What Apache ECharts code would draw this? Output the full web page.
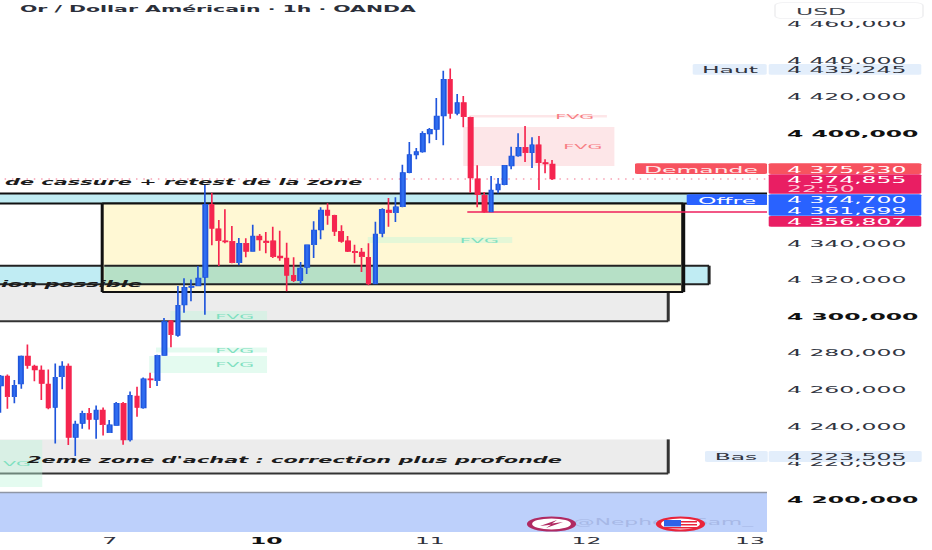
<!DOCTYPE html>
<html><head><meta charset="utf-8">
<style>html,body{margin:0;padding:0;width:932px;height:550px;overflow:hidden;background:#fff}
#c{position:absolute;left:0;top:0;width:1072px;height:1650px;transform-origin:0 0;transform:scale(.87,.33333)}</style>
<script src="https://cdn.jsdelivr.net/npm/echarts@6/dist/echarts.min.js"></script>
</head><body><div id="c"></div>
<script>
// ---- data: [open, close, low, high]
const candles=[
[4261.75,4267.21,4247.18,4267.76],[4267.21,4255.92,4249.36,4268.12],[4255.92,4262.11,4252.28,4265.02],[4262.84,4278.14,4260.29,4278.5],
[4278.14,4273.04,4271.22,4284.5],[4272.68,4270.49,4264.3,4273.4],[4270.49,4263.2,4254.1,4273.04],[4262.84,4249.72,4249,4270.85],
[4250.09,4266.48,4230.42,4274.13],[4266.85,4272.68,4259.93,4275.23],[4272.68,4233.7,4229.5,4274.13],[4233.7,4241,4223.505,4242.8],
[4241.34,4246.81,4238.43,4248.27],[4246.81,4243.53,4238.07,4249.72],[4243.53,4248.63,4232.97,4251.18],[4248.63,4240.62,4234.79,4250.09],
[4236.25,4240.62,4236.25,4243.17],[4240.25,4252.28,4240.25,4253],[4252.28,4232.24,4229.69,4253],[4232.24,4256.65,4231.51,4258.83],
[4256.28,4250.09,4244.99,4261.38],[4249.72,4265.75,4249.36,4266.48],[4265.75,4265.02,4260.65,4269.03],[4264.66,4278.5,4261.75,4278.87],
[4278.5,4297.08,4278.5,4298.91],[4297.45,4289.8,4282.88,4297.81],[4289.43,4305.83,4288.7,4316.39],[4306.01,4315.66,4301.82,4320.58],
[4315.66,4316.39,4308.01,4320.03],[4316.39,4320.76,4316.39,4327.32],[4321.13,4361.02,4300.73,4371.58],[4361.02,4347.9,4338.62,4367.39],
[4347.72,4341.16,4327.32,4352.46],[4341.16,4340.43,4339.71,4358.29],[4340.8,4329.14,4328.78,4349.18],[4329.14,4339.71,4327.69,4342.62],
[4339.71,4335.34,4332.06,4342.44],[4335.34,4343.72,4335.34,4349.91],[4343.72,4341.53,4335.7,4344.81],[4340.98,4340.07,4334.24,4345.9],
[4341.16,4332.42,4331.69,4348.81],[4332.79,4331.69,4330.24,4346.63],[4331.69,4322.22,4313.48,4340.07],[4322.22,4319.31,4318.58,4332.06],
[4319.31,4326.23,4317.48,4329.51],[4326.59,4338.98,4322.95,4338.98],[4338.98,4346.99,4331.69,4351.73],[4346.99,4357.92,4341.89,4359.38],
[4357.92,4355,4349.91,4361.57],[4355,4346.26,4343.71,4355.37],[4346.26,4340.8,4340.07,4349.54],[4341.16,4335.34,4334.97,4343.71],
[4335.34,4334.61,4328.78,4338.98],[4334.97,4332.42,4324.04,4337.16],[4332.06,4317.48,4316.76,4339.71],[4317.48,4344.81,4317.48,4351.55],
[4345.17,4358.29,4342.99,4358.83],[4357.92,4356.46,4348.81,4364.48],[4356.46,4359.74,4351.37,4364.84],[4359.74,4378.33,4359.38,4382.7],
[4378.33,4388.16,4377.96,4395.08],[4387.98,4389.8,4385.61,4391.8],[4389.62,4399.82,4389.25,4400.91],[4399.45,4402,4394.35,4402.73],
[4402,4409.29,4396.17,4419.12],[4409.29,4429.33,4393.26,4434.06],[4429.33,4410.75,4407.83,4435.245],[4410.75,4416.58,4409.65,4421.31],
[4416.58,4408.93,4403.1,4420.22],[4408.56,4375.41,4367.4,4408.93],[4375.04,4366.3,4359.38,4382.33],[4365.94,4356.83,4356.47,4367.76],
[4356.83,4368.85,4356.83,4376.5],[4368.85,4372.13,4367.03,4375.41],[4371.77,4382.33,4371.4,4382.33],[4381.97,4387.43,4380.15,4392.53],
[4387.43,4392.17,4387.07,4399.82],[4392.17,4389.25,4384.15,4403.82],[4389.25,4393.62,4380.87,4397.63],[4393.62,4383.79,4368.85,4398.36],
[4383.79,4383.06,4377.96,4385.61],[4383.06,4374.855,4374.32,4385.24]];
const barSlots=113;
const dayTicks={16:'7',39:'10',63:'11',86:'12',110:'13'};
const boldDays=['10'];
const priceTicks=[4200,4220,4240,4260,4280,4300,4320,4340,4400,4420,4440,4460];
const boldPrices=[4200,4300,4400];
// zones: [slot from, slot to, price top, price bottom, kind]
const zones=[
[-0.5,112.5,4203.6,4182,'strip'],
[-0.5,98,4317.3,4297.1,'gray'],
[-0.5,98,4232.6,4214,'gray'],
[-0.5,104,4327.5,4317.3,'cyan'],
[-0.5,112.5,4366.94,4361.48,'cyanWide'],
[14.9,100.2,4361.48,4313.1,'yellow'],
[15.2,99.9,4327.5,4317.3,'green'],
[24.9,39.1,4302.7,4297.8,'fvgG'],
[22.8,39.1,4282.8,4280.1,'fvgG'],
[21.8,39.1,4278.1,4268.9,'fvgG'],
[53.9,75.1,4343.2,4339.9,'fvgG'],
[-0.5,6.1,4232.2,4206.6,'fvgG'],
[68.8,89,4409.8,4408.5,'fvgR'],
[67.9,90.1,4403.3,4382,'fvgR']];
// levels: [slot from, slot to, price, kind]
const levels=[[-0.5,112.5,4374.855,'dotted'],[68.5,112.5,4356.807,'solid']];
// notes: [slot, price, text, kind]
const notes=[
[0.63,4373.2,'de cassure + retest de la zone','bold'],
[0.04,4317.5,'ion possible','bold'],
[3.86,4221.3,"2eme zone d'achat : correction plus profonde",'bold'],
[31.5,4300,'FVG','g'],[31.5,4281.7,'FVG','g'],[31.5,4273.8,'FVG','g'],[67.4,4341.5,'FVG','g'],
[0.34,4219.7,'VG','g'],[81.4,4409.3,'FVG','r'],[82.6,4392.9,'FVG','r']];
const titleText='Or / Dollar Américain · 1h · OANDA';
const currency='USD';
const watermark='@Nephew_Sam_';
const tagTexts={haut:'Haut',hautV:'4 435,245',dem:'Demande',demV:'4 375,230',last:'4 374,855',timer:'22:50',off:'Offre',offV:'4 374,700',offV2:'4 361,699',low:'4 356,807',bas:'Bas',basV:'4 223,505'};

// ---- layout helpers (page px -> logical px)
const SX=0.87, W=1072;
const X=x=>x/SX, Y=y=>y*3;
const priceFont=27;
const FF='"DejaVu Sans"';
const TY=1.5; // vertical text nudge, logical px
const fmt=v=>{const s=v.toFixed(3).replace('.',',');return s[0]+' '+s.slice(1);};
const fillOf={strip:'#bdd0fb',gray:'#ececec',cyan:'#c0ecf3',cyanWide:'#c0ecf3',yellow:'#fff8d4',green:'#b6e0c6',fvgG:'rgba(190,245,220,.42)',fvgR:'rgba(250,200,205,.45)'};
// borders in page px: top,right,bottom,left
const edgeOf={strip:[1.5,0,0,0,'#8f96a6'],gray:[0,3,2,0,'#333'],cyan:[2,3,2,0,'#222'],cyanWide:[2,0,2,0,'#111'],yellow:[2,4,2,3,'#111'],green:[2,0,2,0,'#222'],fvgG:[0,0,0,0,''],fvgR:[0,0,0,0,'']};
const noteStyle={bold:{font:'italic bold 24px '+FF,fill:'#1b1b1b'},g:{font:'22px '+FF,fill:'#7fe0c0'},r:{font:'22px '+FF,fill:'#f77f85'}};

function zoneItem(p,api){
  const z=zones[p.dataIndex];
  const a=api.coord([z[0],z[2]]),b=api.coord([z[1],z[3]]);
  const [t,r,bt,l,col]=edgeOf[z[4]];
  const kids=[{type:'rect',shape:{x:a[0],y:a[1],width:b[0]-a[0],height:b[1]-a[1]},style:{fill:fillOf[z[4]]}}];
  const add=(x,y,w,h)=>kids.push({type:'rect',shape:{x,y,width:w,height:h},style:{fill:col}});
  if(t)add(a[0],a[1]-Y(t)/2,b[0]-a[0],Y(t));
  if(bt)add(a[0],b[1]-Y(bt)/2,b[0]-a[0],Y(bt));
  if(l)add(a[0]-X(l)/2,a[1],X(l),b[1]-a[1]);
  if(r)add(b[0]-X(r)/2,a[1],X(r),b[1]-a[1]);
  return {type:'group',children:kids};
}
function levelItem(p,api){
  const l=levels[p.dataIndex];
  const a=api.coord([l[0],l[2]]),b=api.coord([l[1],l[2]]);
  const dotted=l[3]==='dotted';
  return {type:'line',shape:{x1:a[0],y1:a[1],x2:b[0],y2:b[1]},
    style:{stroke:dotted?'#f4708c':'#ee1f5c',lineWidth:dotted?Y(1):Y(1.5),lineDash:dotted?[X(1.5),X(5.8)]:null}};
}
function noteItem(p,api){
  const n=notes[p.dataIndex];
  const a=api.coord([n[0],n[1]]);
  return {type:'text',style:{x:a[0],y:a[1]+TY,text:n[2],textAlign:'left',textVerticalAlign:'middle',...noteStyle[n[3]]}};
}
// ---- overlay tags
const el=[];
const rect=(x0,y0,x1,y1,fill,stroke)=>el.push({type:'rect',z:100,shape:{x:X(x0),y:Y(y0),width:X(x1-x0),height:Y(y1-y0),r:stroke?9:3},style:{fill,stroke:stroke||null,lineWidth:stroke?2:0}});
const txt=(x,y,t,fill,align,font)=>el.push({type:'text',z:101,style:{x:X(x),y:Y(y)+TY,text:t,fill,textAlign:align||'left',textVerticalAlign:'middle',font:font||(priceFont+'px '+FF)}});
rect(768,0,932,21,'#fff');
rect(775,2.7,923,18.7,'#fff','#f0f0f2');
txt(796,10.8,currency,'#3b3f4a');
txt(20,9,titleText,'#2b2f3a','left','bold 23.5px '+FF);
rect(692.7,64,766.7,74.8,'#e3eefb');rect(768.7,64,921.3,74.8,'#e3eefb');
txt(730,69.6,tagTexts.haut,'#30343f','center');txt(787,69.6,tagTexts.hautV,'#30343f');
rect(705,451,767.7,462,'#e3eefb');rect(768.7,451,921.7,462,'#e3eefb');
txt(736,456.6,tagTexts.bas,'#30343f','center');txt(787,456.6,tagTexts.basV,'#30343f');
rect(635,163.3,767,174,'#f7525f');rect(768.7,163.3,921.3,174,'#f7525f');
txt(701,168.8,tagTexts.dem,'#ffe9ea','center');txt(787,168.8,tagTexts.demV,'#fff');
rect(768.7,174.3,921.3,193.7,'#e91e63');
txt(787,179.3,tagTexts.last,'#fff');txt(787,188.3,tagTexts.timer,'#ffc4d6');
rect(686.7,194.3,767,205,'#2962ff');rect(768.7,194.3,921.3,215.7,'#2962ff');
txt(727,199.8,tagTexts.off,'#fff','center');txt(787,199.6,tagTexts.offV,'#fff');txt(787,210.4,tagTexts.offV2,'#fff');
rect(768.7,216,921.3,226.7,'#e91e63');txt(787,221.6,tagTexts.low,'#fff');
// watermark
txt(573,522,watermark,'#a7b8e6','left','25px '+FF);
const ell=(cx,cy,rx,ry,fill,stroke,lw)=>el.push({type:'ellipse',z:102,shape:{cx:X(cx),cy:Y(cy),rx:X(rx),ry:Y(ry)},style:{fill,stroke:stroke||null,lineWidth:lw||0}});
ell(551.5,524,22,6.6,'#fff','#b02a62',6);
el.push({type:'polygon',z:103,shape:{points:[[540,526],[557,520],[552,523.4],[563,522],[546,528],[551,524.8]].map(p=>[X(p[0]),Y(p[1])])},style:{fill:'#b02a62'}});
ell(680.5,524,22,6.6,'#fff','#e9243a',6);
[521,524,527].forEach(y=>el.push({type:'rect',z:103,shape:{x:X(664),y:Y(y),width:X(33),height:Y(1.5)},style:{fill:'#e9243a'}}));
el.push({type:'rect',z:104,shape:{x:X(664),y:Y(520),width:X(17),height:Y(6.5)},style:{fill:'#2f62e8'}});

const categories=Array.from({length:barSlots},(_,i)=>dayTicks[i]||'');
const chart=echarts.init(document.getElementById('c'),null,{renderer:'svg',width:W,height:1650});
chart.setOption({
  animation:false,backgroundColor:'#fff',
  grid:{left:X(-2.7),top:0,width:X(769.7),height:Y(532),outerBoundsMode:'none'},
  xAxis:[{type:'category',data:categories,boundaryGap:true,axisLine:{show:false},axisTick:{show:false},splitLine:{show:false},
    axisLabel:{interval:0,hideOverlap:false,margin:Y(4.5),color:'#2f323c',fontFamily:FF,fontSize:priceFont,
      formatter:v=>boldDays.includes(v)?'{b|'+v+'}':v,rich:{b:{fontWeight:'bold',fontFamily:FF,fontSize:priceFont,color:'#111'}}}},
    {type:'value',show:false,min:-0.5,max:barSlots-0.5,splitLine:{show:false}}],
  yAxis:{type:'value',position:'right',min:4182,max:4472.68,scale:true,axisLine:{show:false},axisTick:{show:false},splitLine:{show:false},
    axisLabel:{customValues:priceTicks,margin:X(20),color:'#30343f',fontFamily:FF,fontSize:priceFont,padding:[TY*2,0,0,0],
      formatter:v=>boldPrices.includes(v)?'{b|'+fmt(v)+'}':fmt(v),rich:{b:{fontWeight:'bold',fontFamily:FF,fontSize:priceFont,color:'#111'}}}},
  series:[
    {type:'custom',name:'zones',xAxisIndex:1,z:1,clip:false,silent:true,data:zones.map(z=>[z[0],z[1],z[2],z[3]]),encode:{x:[0,1],y:[2,3]},renderItem:zoneItem},
    {type:'custom',name:'levels',xAxisIndex:1,z:2,clip:false,silent:true,data:levels.map(l=>[l[0],l[1],l[2]]),encode:{x:[0,1],y:2},renderItem:levelItem},
    {type:'candlestick',name:'XAUUSD',xAxisIndex:0,z:3,data:candles,barWidth:5.2,clip:false,
      itemStyle:{color:'#2f6df0',color0:'#f5254f',borderColor:'#1f55dc',borderColor0:'#f5254f',borderWidth:1.9}},
    {type:'custom',name:'notes',xAxisIndex:1,z:4,clip:false,silent:true,data:notes.map(n=>[n[0],n[1]]),encode:{x:0,y:1},renderItem:noteItem}
  ],
  graphic:{elements:el}
});
</script></body></html>
